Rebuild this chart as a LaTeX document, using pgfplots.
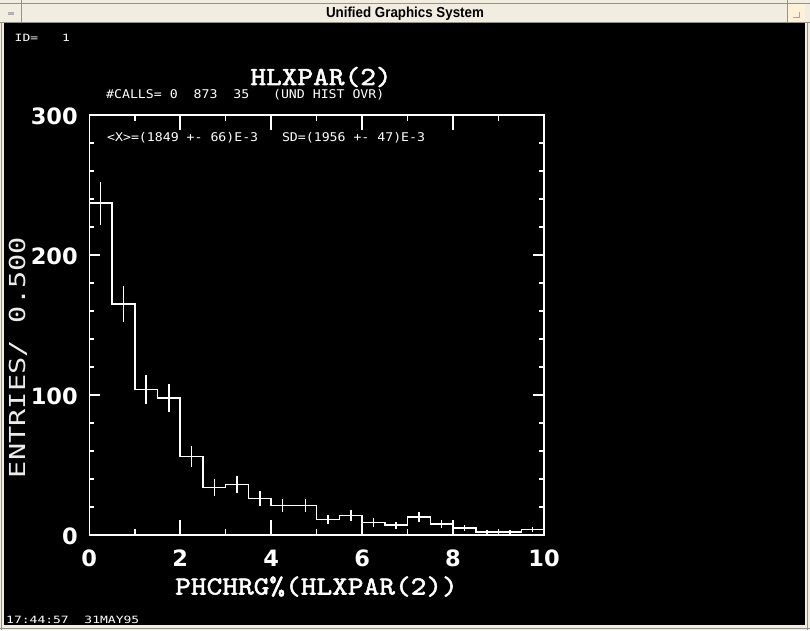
\documentclass[border=0pt]{standalone}
\usepackage{fontspec}
\usepackage{pgfplots}
\pgfplotsset{compat=1.18}
\definecolor{cream}{RGB}{242,237,225}
\definecolor{btn}{RGB}{253,241,218}
\definecolor{edge}{RGB}{150,146,138}
\newfontfamily\smallmono[FakeStretch=1.1]{DejaVu Sans Mono}
\newfontfamily\tinymono[FakeStretch=1.3]{DejaVu Sans Mono}
\newfontfamily\ylabfont[FakeStretch=1.3]{DejaVu Sans Mono}
\newfontfamily\bigserif[FakeStretch=1.15,FakeBold=2]{lmmono10-regular.otf}
\newfontfamily\tickfont{DejaVu Sans}
\newfontfamily\barfont[FakeStretch=0.92]{Liberation Sans}
\newcommand{\tickfs}{\tickfont\bfseries\fontsize{22.5}{24}\selectfont}
\begin{document}
\begin{tikzpicture}
\begin{scope}[x=1pt,y=1pt]
\path[use as bounding box] (0,0) rectangle (810,630);
\fill[cream] (0,0) rectangle (810,630);
\fill[black] (4,5) rectangle (805,607);
\fill[btn] (787,607.5) rectangle (805,626);
\draw[edge, line width=1pt] (0,626.5) -- (810,626.5);
\draw[edge, line width=1pt] (0,607.5) -- (810,607.5);
\draw[edge, line width=1pt] (21,607.5) -- (21,630);
\draw[edge, line width=1pt] (787,607.5) -- (787,630);
\draw[edge, line width=0.8pt] (807.5,0) -- (807.5,607);
\draw[edge, line width=0.8pt] (1.5,0) -- (1.5,607);
\draw[edge, line width=0.8pt] (0,1.5) -- (810,1.5);
\fill[gray!60] (8,615) rectangle (14,617.5);
\draw[gray!70, line width=0.8pt] (793,613) -- (799,613) -- (799,618);
\node[font=\barfont\bfseries\fontsize{14.5}{16}\selectfont, text=black, anchor=base] at (405,612.7) {Unified Graphics System};
% texts inside the graphics window
\node[font=\tinymono\fontsize{10}{12}\selectfont, text=white, anchor=base west, inner sep=0pt] at (14.5,588) {ID=};
\node[font=\tinymono\fontsize{10}{12}\selectfont, text=white, anchor=base west, inner sep=0pt] at (62,588) {1};
\node[font=\bigserif\fontsize{26}{28}\selectfont, text=white, anchor=base] at (321,545) {HLXPAR(2)};
\node[font=\smallmono\fontsize{12}{14}\selectfont, text=white, anchor=base west, inner sep=0pt] at (106,531.7) {\#CALLS=~0~~873~~35~~~(UND~HIST~OVR)};
\node[font=\smallmono\fontsize{12}{14}\selectfont, text=white, anchor=base west, inner sep=0pt] at (107,488.3) {<X>=(1849~+-~66)E-3~~~SD=(1956~+-~47)E-3};
\node[font=\ylabfont\fontsize{22}{24}\selectfont, text=white!92!black, rotate=90, anchor=base, inner sep=0pt] at (25,272.5) {ENTRIES/~0.500};
\node[font=\bigserif\fontsize{26}{28}\selectfont, text=white, anchor=base] at (316.5,35.5) {PHCHRG\%(HLXPAR(2))};
\node[font=\tinymono\fontsize{10}{12}\selectfont, text=white, anchor=base west, inner sep=0pt] at (6,6.7) {17:44:57~~31MAY95};
\end{scope}
% axis with data and x ticks
\begin{axis}[
  at={(89.3pt,95pt)}, anchor=south west,
  scale only axis, width=454.7pt, height=420pt,
  xmin=0, xmax=10, ymin=0, ymax=300,
  axis line style={white, line width=1.5pt},
  xtick={0,2,4,6,8,10}, minor xtick={1,3,5,7,9}, ytick=\empty,
  tick align=inside, xtick pos=both,
  major tick length=15pt, minor tick length=6pt,
  every tick/.style={white, line width=1.5pt},
  xticklabel style={font=\tickfs, text=white, anchor=center, yshift=-23.3pt, inner sep=0pt},
  /pgf/number format/assume math mode=true,
]
\addplot[white, line width=1.5pt, const plot mark left] coordinates {
(0,237) (0.5,165) (1,104) (1.5,98) (2,56) (2.5,34) (3,36) (3.5,26) (4,21) (4.5,21)
(5,11) (5.5,14) (6,9) (6.5,7) (7,13) (7.5,8) (8,5) (8.5,2) (9,2) (9.5,4) (10,4)};
\addplot[draw=none, mark=none, forget plot,
  error bars/.cd, y dir=both, y explicit, error mark=none,
  error bar style={draw=white, solid, line width=1.5pt}] coordinates {
(0.25,237) +- (0,15.4)
(0.75,165) +- (0,12.8)
(1.25,104) +- (0,10.2)
(1.75,98) +- (0,9.9)
(2.25,56) +- (0,7.5)
(2.75,34) +- (0,5.8)
(3.25,36) +- (0,6.0)
(3.75,26) +- (0,5.1)
(4.25,21) +- (0,4.6)
(4.75,21) +- (0,4.6)
(5.25,11) +- (0,3.3)
(5.75,14) +- (0,3.7)
(6.25,9) +- (0,3.0)
(6.75,7) +- (0,2.6)
(7.25,13) +- (0,3.6)
(7.75,8) +- (0,2.8)
(8.25,5) +- (0,2.2)
(8.75,2) +- (0,1.4)
(9.25,2) +- (0,1.4)
(9.75,4) +- (0,2.0)
};
\end{axis}
% axis for y ticks
\begin{axis}[
  at={(89.3pt,95pt)}, anchor=south west,
  scale only axis, width=454.7pt, height=420pt,
  xmin=0, xmax=10, ymin=0, ymax=300,
  axis line style={white, line width=1.5pt},
  xtick=\empty, ytick={0,100,200,300},
  minor ytick={20,40,60,80,120,140,160,180,220,240,260,280},
  tick align=inside, ytick pos=both,
  major tick length=10.7pt, minor tick length=4.7pt,
  every tick/.style={white, line width=1.5pt},
  yticklabel style={font=\tickfs, text=white, anchor=east, xshift=-11.3pt, yshift=-1.5pt, inner sep=0pt},
  /pgf/number format/assume math mode=true,
]
\end{axis}
\end{tikzpicture}
\end{document}
